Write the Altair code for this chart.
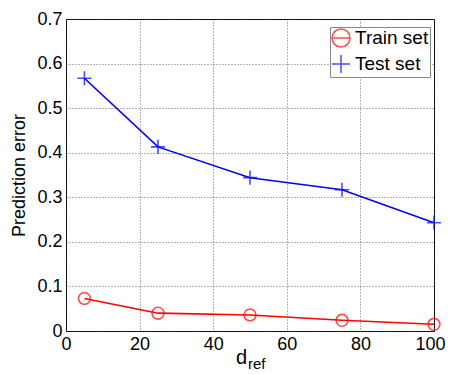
import altair as alt
import pandas as pd

d_ref = [5, 25, 50, 75, 100]
train_err = [0.073, 0.040, 0.036, 0.024, 0.015]
test_err = [0.567, 0.413, 0.344, 0.317, 0.243]
series = ["Train set", "Test set"]
x_ticks = [0, 20, 40, 60, 80, 100]
y_ticks = [0, 0.1, 0.2, 0.3, 0.4, 0.5, 0.6, 0.7]

df = pd.DataFrame({
    "d": d_ref * 2,
    "err": train_err + test_err,
    "series": [series[0]] * len(d_ref) + [series[1]] * len(d_ref),
})
leg_df = pd.DataFrame({"entry": series})

FONT = "Liberation Sans"
PLUS = "M-1,0H1M0,-1V1"
CIRC_LINE = "M-1,0A1,1,0,1,1,1,0A1,1,0,1,1,-1,0M-1,0H1"

color_scale = alt.Scale(domain=series, range=["#ff0000", "#0000ff"])
shape_scale = alt.Scale(domain=series, range=["circle", PLUS])
leg_shape_scale = alt.Scale(domain=series, range=[CIRC_LINE, PLUS])

legend = alt.Legend(
    title=None, orient="none", legendX=264, legendY=8,
    fillColor="white", strokeColor="#888888", padding=1,
    labelFont=FONT, labelFontSize=19, labelColor="black",
    rowPadding=2, labelOffset=4,
    symbolSize=324, symbolStrokeWidth=1.5, symbolFillColor="transparent",
)

x_enc = alt.X("d:Q", scale=alt.Scale(domain=[0, 100], nice=False),
              axis=alt.Axis(values=x_ticks, title="d", titleFontSize=20,
                            titleFontWeight="normal", titleX=175, titleY=32,
                            titleBaseline="alphabetic",
                            labelOffset=alt.expr("datum.value == 100 ? -4 : 0")))
y_enc = alt.Y("err:Q", scale=alt.Scale(domain=[0, 0.7], nice=False),
              axis=alt.Axis(values=y_ticks, title="Prediction error", format="~g",
                            titleFontSize=18, titleFontWeight="normal", titlePadding=8))

lines = alt.Chart(df).mark_line(strokeWidth=1.6).encode(
    x=x_enc, y=y_enc,
    color=alt.Color("series:N", scale=color_scale, legend=None),
)
points = alt.Chart(df).mark_point(filled=False, strokeWidth=1.6).encode(
    x="d:Q", y="err:Q",
    color=alt.Color("series:N", scale=color_scale, legend=None),
    shape=alt.Shape("series:N", scale=shape_scale, legend=None),
    size=alt.condition(alt.datum.series == "Train set", alt.value(140), alt.value(200)),
)
leg = alt.Chart(leg_df).mark_point(filled=False, strokeWidth=1.5, size=324).encode(
    x=alt.value(-2000), y=alt.value(-2000),
    color=alt.Color("entry:N", scale=color_scale, legend=legend),
    shape=alt.Shape("entry:N", scale=leg_shape_scale, legend=legend),
)
sub = alt.Chart(pd.DataFrame({"t": ["ref"]})).mark_text(
    font=FONT, fontSize=15, align="left", baseline="alphabetic"
).encode(x=alt.value(182), y=alt.value(350), text="t:N")

chart = alt.layer(lines, points, leg, sub).resolve_scale(
    color="independent", shape="independent"
).properties(
    width=368, height=312, background="white",
    autosize=alt.AutoSizeParams(type="none"),
    padding={"left": 58, "top": 11, "right": 12, "bottom": 42},
).configure_view(
    stroke="black", strokeWidth=1
).configure_axis(
    labelFont=FONT, titleFont=FONT, labelFontSize=18, labelColor="black",
    titleColor="black", domain=False, ticks=False, labelPadding=4,
    labelFlush=False,
    grid=True, gridColor="#444444", gridDash=[1, 2], gridWidth=0.8,
)

chart.save("out.html", embed_options={"renderer": "svg", "actions": False})
